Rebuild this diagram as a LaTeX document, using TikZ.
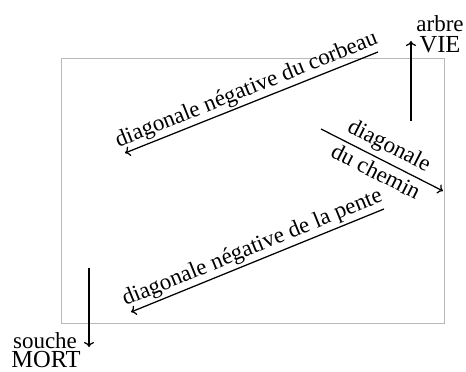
\documentclass[tikz,border=0pt]{standalone}
\usepackage{fontspec}
\setmainfont{Liberation Serif}
\usetikzlibrary{arrows.meta}
\begin{document}
\begin{tikzpicture}[x=1pt,y=-1pt,
  frame/.style={draw=black!28, line width=0.9pt},
  ray/.style={draw=black, line width=1.25pt},
  tip/.tip={To[length=5pt,width=10pt]},
  lbl/.style={font=\fontsize{23}{26}\selectfont, inner sep=2pt},
  capslbl/.style={font=\fontsize{24.5}{28}\selectfont, inner sep=0pt},
  wordlbl/.style={font=\fontsize{23}{26}\selectfont, inner sep=0pt},
]
\useasboundingbox (0,0) rectangle (466,372);

% the field
\draw[frame] (61,58) rectangle (444,323);

% end points of the diagonals
\coordinate (corbA) at (125,153);
\coordinate (corbB) at (378,52);
\coordinate (penA)  at (131,312);
\coordinate (penB)  at (384,209);
\coordinate (chemA) at (321,129);
\coordinate (chemB) at (443,191);
\coordinate (vieA)  at (411,121);
\coordinate (vieB)  at (411,41);
\coordinate (mortA) at (89,268);
\coordinate (mortB) at (89,347);

% labels at the two poles
\node[wordlbl, anchor=base] (arbre)  at (440,31)  {arbre};
\node[capslbl, anchor=base] (vie)    at (440,52)  {VIE};
\node[wordlbl, anchor=base] (souche) at (45,348)  {souche};
\node[capslbl, anchor=base] (mort)   at (46,367.5) {MORT};

% diagonals
\draw[ray, tip-] (corbA) -- node[lbl, sloped, above] (tcorb) {diagonale négative du corbeau} (corbB);
\draw[ray, tip-] (penA) -- node[lbl, sloped, above] (tpen) {diagonale négative de la pente} (penB);
\draw[ray, -tip] (chemA) -- node[lbl, sloped, above=2pt] (tchem1) {diagonale}
                            node[lbl, sloped, below=2pt] (tchem2) {du chemin} (chemB);

% vertical arrows
\draw[ray, -tip] (vieA) -- (vieB);
\draw[ray, -tip] (mortA) -- (mortB);
\end{tikzpicture}
\end{document}
